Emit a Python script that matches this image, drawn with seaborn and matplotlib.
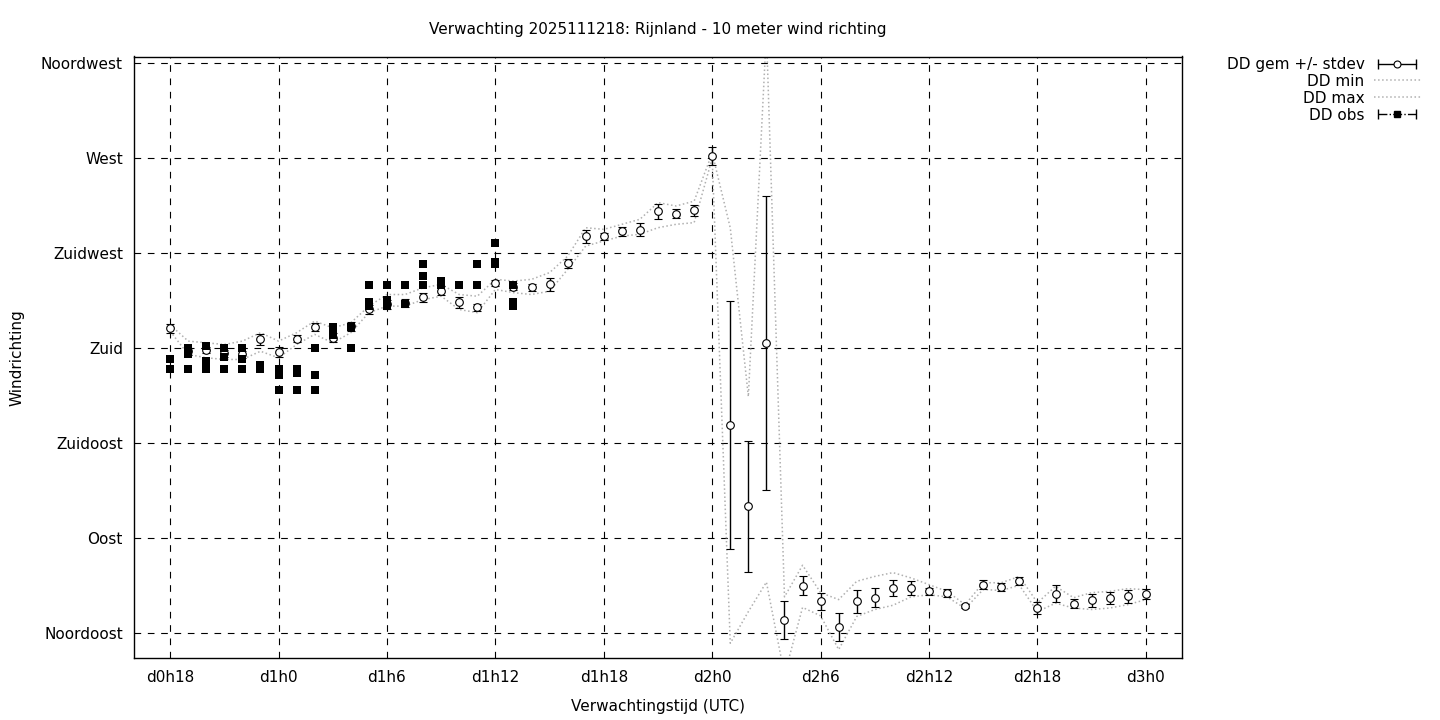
import matplotlib
matplotlib.use("Agg")
import matplotlib.pyplot as plt
import pandas as pd
import seaborn as sns
from matplotlib.lines import Line2D
from matplotlib.legend_handler import HandlerLine2D

# verwachtingsuren (uren na d0h0)
uren = list(range(18, 73))

dd_gem = [189.3, 178.4, 179.0, 177.5, 177.0, 184.1, 178.0, 184.5, 190.0, 185.0,
          190.3, 198.3, 200.7, 201.4, 204.0, 207.3, 201.7, 199.3, 210.7, 209.2,
          208.8, 210.2, 220.2, 233.0, 233.0, 235.4, 236.2, 244.8, 243.8, 245.3,
          271.1, 143.4, 104.9, 182.3, 51.2, 67.3, 59.9, 47.7, 59.9, 61.5,
          66.2, 66.2, 64.6, 63.8, 57.5, 67.8, 66.7, 69.4, 56.7, 63.4,
          58.8, 60.3, 61.5, 62.2, 63.4]
dd_std = [2.0, 1.5, 1.5, 1.5, 1.5, 2.6, 2.4, 1.6, 2.1, 2.1,
          2.0, 2.0, 2.0, 2.0, 2.0, 2.0, 2.5, 1.8, 1.4, 1.5,
          1.6, 3.2, 2.2, 3.2, 1.6, 2.2, 3.0, 3.4, 2.2, 2.5,
          4.3, 58.7, 31.2, 69.8, 9.0, 4.5, 4.0, 6.7, 5.4, 4.5,
          4.0, 3.2, 1.5, 2.0, 1.0, 2.0, 2.0, 2.0, 3.0, 4.0,
          2.0, 3.0, 3.0, 3.0, 2.5]
dd_min = [188.0, 177.0, 175.4, 174.6, 174.6, 178.5, 175.4, 181.7, 186.5, 182.5,
          187.3, 196.8, 199.9, 199.9, 203.0, 204.6, 198.3, 196.8, 207.8, 206.3,
          205.4, 207.0, 217.3, 228.4, 230.8, 233.1, 234.0, 237.1, 238.7, 239.5,
          270.0, 40.0, 55.0, 69.0, 25.0, 57.0, 53.0, 37.0, 52.7, 56.0,
          58.0, 62.0, 63.0, 62.0, 56.5, 65.5, 65.0, 67.5, 55.0, 59.0,
          56.7, 56.0, 56.7, 58.3, 60.7]
dd_max = [191.0, 183.3, 182.5, 181.7, 183.3, 187.3, 183.3, 187.3, 192.8, 189.6,
          192.0, 199.9, 205.4, 205.4, 208.6, 210.2, 205.4, 204.6, 212.6, 211.8,
          212.6, 215.8, 223.6, 237.1, 236.3, 238.7, 241.1, 249.0, 247.4, 249.7,
          272.5, 237.0, 157.0, 330.0, 62.0, 77.0, 64.0, 60.7, 69.4, 71.7,
          73.5, 71.0, 67.8, 64.6, 58.3, 68.7, 68.7, 71.7, 59.2, 67.0,
          61.6, 64.0, 64.6, 65.9, 65.4]

# waarnemingen (meerdere per uur)
obs_uur = [18, 18,
           19, 19, 19,
           20, 20, 20,
           21, 21, 21,
           22, 22, 22,
           23, 23,
           24, 24, 24,
           25, 25, 25,
           26, 26, 26,
           27, 27, 27,
           28, 28,
           29, 29, 29,
           30, 30, 30,
           31, 31,
           32, 32, 32,
           33, 33,
           34,
           35, 35,
           36, 36, 36,
           37, 37, 37]
obs_dd = [175, 170,
          180, 177, 170,
          181, 174, 170,
          180, 176, 170,
          180, 175, 170,
          172, 170,
          170, 167, 160,
          170, 168, 160,
          180, 167, 160,
          190, 188, 186,
          190, 180,
          210, 202, 200,
          210, 203, 200,
          210, 201,
          220, 214, 210,
          212, 210,
          210,
          220, 210,
          230, 221, 220,
          210, 202, 200]

x_ticks = [18, 24, 30, 36, 42, 48, 54, 60, 66, 72]
x_labels = ["d0h18", "d1h0", "d1h6", "d1h12", "d1h18", "d2h0", "d2h6", "d2h12", "d2h18", "d3h0"]
y_ticks = [45, 90, 135, 180, 225, 270, 315]
y_labels = ["Noordoost", "Oost", "Zuidoost", "Zuid", "Zuidwest", "West", "Noordwest"]

df = pd.DataFrame({"uur": uren, "gem": dd_gem, "std": dd_std, "min": dd_min, "max": dd_max})
df_obs = pd.DataFrame({"uur": obs_uur, "dd": obs_dd})

sns.set_style("white")
plt.rcParams['font.family'] = ['DejaVu Sans']
plt.rcParams['font.size'] = 11
for k in ['text.color', 'axes.labelcolor', 'xtick.color', 'ytick.color']:
    plt.rcParams[k] = 'black'

fig = plt.figure(figsize=(14.4, 7.2), dpi=100)
ax = fig.add_axes([134 / 1440, 62 / 720, 1048 / 1440, 601.5 / 720])

grijs = '#b0b0b0'
sns.lineplot(data=df, x="uur", y="min", ax=ax, color=grijs, linestyle=':', linewidth=1.1, zorder=2)
sns.lineplot(data=df, x="uur", y="max", ax=ax, color=grijs, linestyle=':', linewidth=1.1, zorder=2)

ax.errorbar(df["uur"], df["gem"], yerr=df["std"], fmt='o', mfc='white', mec='black',
            ecolor='black', elinewidth=1, capsize=3, capthick=1, markersize=5.5, mew=0.8, zorder=4)

sns.scatterplot(data=df_obs, x="uur", y="dd", ax=ax, marker='s', color='black', s=32,
                edgecolor='black', linewidth=0, zorder=5)

ax.set_xlim(16, 74)
ax.set_ylim(33, 318.3)
ax.set_xticks(x_ticks)
ax.set_xticklabels(x_labels)
ax.set_yticks(y_ticks)
ax.set_yticklabels(y_labels)
ax.grid(True, color='black', linestyle=(0, (6, 6)), linewidth=0.8)
ax.set_axisbelow(True)
for sp in ax.spines.values():
    sp.set_color('black')
    sp.set_linewidth(1)
ax.tick_params(axis='both', direction='in', length=0, labelsize=11, colors='black')
ax.tick_params(axis='x', pad=9)
ax.tick_params(axis='y', pad=8)

ax.set_xlabel("Verwachtingstijd (UTC)", fontsize=11)
ax.set_ylabel("Windrichting", fontsize=11)
ax.xaxis.set_label_coords(0.5, -(699 - 658) / 601.5)
ax.yaxis.set_label_coords(-(134 - 25) / 1048, 0.5)
ax.set_title("Verwachting 2025111218: Rijnland - 10 meter wind richting", fontsize=11, pad=16)

# legenda in gnuplot-stijl
h_gem_lijn = Line2D([], [], color='black', lw=1, marker='|', markersize=7, mew=1)
h_gem_punt = Line2D([], [], ls='none', marker='o', mfc='white', mec='black', markersize=5, mew=0.8)
h_min = Line2D([], [], color=grijs, ls=':', lw=1.1)
h_max = Line2D([], [], color=grijs, ls=':', lw=1.1)
h_obs_lijn = Line2D([], [], color='black', lw=1, ls='-.', marker='|', markersize=7, mew=1)
h_obs_punt = Line2D([], [], ls='none', marker='s', color='black', markersize=5)
hmap = {h_gem_lijn: HandlerLine2D(numpoints=2), h_obs_lijn: HandlerLine2D(numpoints=2),
        h_gem_punt: HandlerLine2D(numpoints=1), h_obs_punt: HandlerLine2D(numpoints=1)}
fig.legend([(h_gem_lijn, h_gem_punt), h_min, h_max, (h_obs_lijn, h_obs_punt)],
           ["DD gem +/- stdev", "DD min", "DD max", "DD obs"],
           handler_map=hmap, loc='upper right', bbox_to_anchor=(1421 / 1440, 1 - 57 / 720),
           frameon=False, markerfirst=False, handlelength=3.1, handletextpad=0.6,
           labelspacing=0.12, borderpad=0, borderaxespad=0, fontsize=11)

fig.savefig("out.png", dpi=100)
